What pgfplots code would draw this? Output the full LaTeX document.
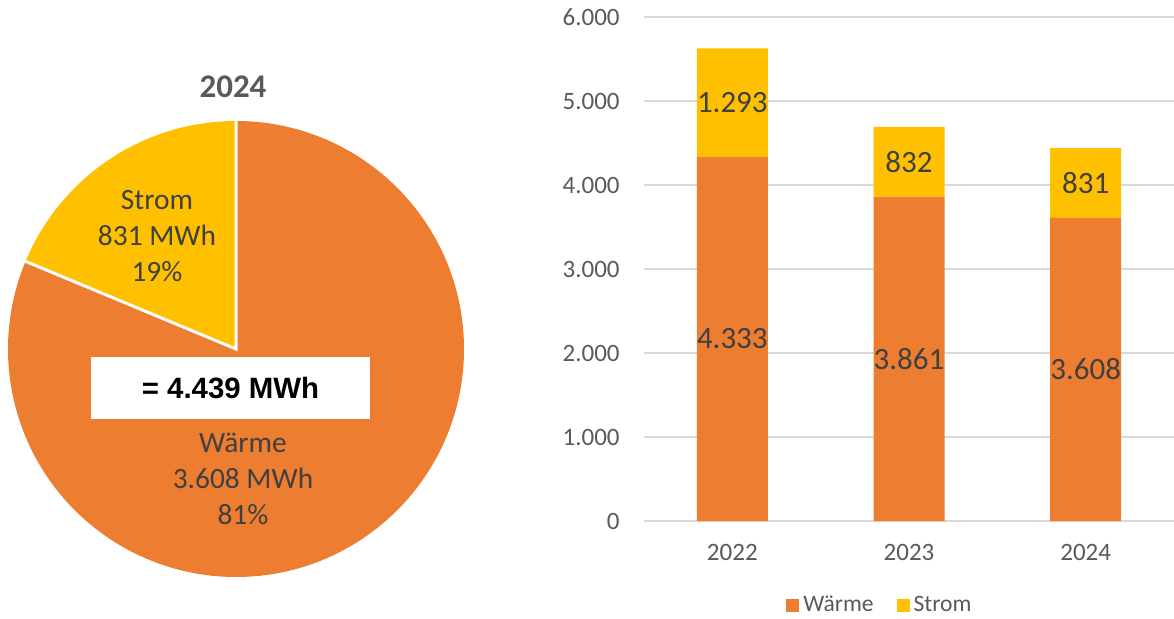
\documentclass[border=0pt]{standalone}
\usepackage{pgfplots}
\pgfplotsset{compat=1.18}
\usepackage{pgfplotstable}
\usepackage{fontspec}
\setmainfont{Carlito}
\newfontfamily\arialfont{Liberation Sans}
\definecolor{waerme}{HTML}{ED7D31}
\definecolor{strom}{HTML}{FFC000}
\definecolor{txtgray}{HTML}{595959}
\definecolor{lblgray}{HTML}{404040}
\definecolor{gridgray}{HTML}{D9D9D9}

% Energieverbrauch in MWh
\pgfplotstableread{
x year warme strom
0 2022 4333 1293
1 2023 3861 832
2 2024 3608 831
}\energy

\begin{document}
\begin{tikzpicture}
\useasboundingbox (0,0) rectangle (587pt,309pt);

% pie angles from the 2024 row
\pgfplotstablegetelem{2}{strom}\of\energy \let\stromval\pgfplotsretval
\pgfplotstablegetelem{2}{warme}\of\energy \let\warmeval\pgfplotsretval
\pgfmathsetmacro\sa{360*(\stromval/(\stromval+\warmeval))}

% ---- pie 2024 ----
\begin{axis}[
    at={(118pt,134.5pt)}, anchor=center,
    hide axis, clip=false,
    x=114pt, y=114pt,
    xmin=-1, xmax=1, ymin=-1, ymax=1,
]
\fill[waerme] (axis cs:0,0) -- (axis cs:0,1) arc[start angle=90, end angle={\sa-270}, radius=114pt] -- cycle;
\fill[strom] (axis cs:0,0) -- (axis cs:0,1) arc[start angle=90, end angle={90+\sa}, radius=114pt] -- cycle;
\draw[white, line width=1.5pt] (axis cs:0,1) -- (axis cs:0,0) -- (axis cs:{cos(90+\sa)},{sin(90+\sa)});
\end{axis}

\node[font=\fontsize{16.5}{19}\selectfont\bfseries, text=txtgray] at (116.5pt,265.5pt) {2024};
\node[font=\fontsize{14.7}{18}\selectfont, text=lblgray, align=center] at (78.5pt,191pt) {Strom\\831 MWh\\19\%};
\node[font=\fontsize{14.7}{18}\selectfont, text=lblgray, align=center] at (121.5pt,69.5pt) {Wärme\\3.608 MWh\\81\%};
\fill[white] (45.5pt,99.5pt) rectangle (185pt,130.5pt);
\node[font=\arialfont\fontsize{14.7}{17}\selectfont\bfseries] at (115.25pt,115pt) {= 4.439 MWh};

% ---- stacked bars ----
\begin{axis}[
    at={(322pt,48.5pt)}, anchor=south west,
    scale only axis, width=265pt, height=252pt,
    ybar stacked, bar width=35.5pt,
    xmin=-0.5, xmax=2.5, ymin=0, ymax=6000,
    xtick=data, xticklabels from table={\energy}{year},
    ytick={0,1000,...,6000},
    axis line style={draw=none}, major tick style={draw=none},
    ymajorgrids, grid style={draw=gridgray, line width=0.75pt},
    /pgf/number format/.cd, 1000 sep={.}, assume math mode=true, /pgfplots/.cd,
    ticklabel style={font=\fontsize{12.5}{15}\selectfont, text=txtgray},
    yticklabel style={anchor=east, inner sep=0pt, xshift=-12pt},
    xticklabel style={anchor=center, inner sep=0pt, yshift=-15.5pt},
    point meta=explicit,
    nodes near coords,
    every node near coord/.append style={font=\fontsize{15.5}{18}\selectfont, text=lblgray, anchor=center},
    legend style={at={(0.447,-0.167)}, anchor=center, draw=none, fill=none,
        legend columns=-1, font=\fontsize{11.8}{14}\selectfont, text=txtgray,
        /tikz/every even column/.append style={column sep=9.5pt}},
]
\addplot[fill=waerme, draw=none,
    legend image code/.code={\fill[waerme] (0pt,-3.25pt) rectangle (6.5pt,3.25pt);}]
    table[x=x, y=warme, meta=warme] {\energy};
\addlegendentry{Wärme}
\addplot[fill=strom, draw=none,
    legend image code/.code={\fill[strom] (0pt,-3.25pt) rectangle (6.5pt,3.25pt);}]
    table[x=x, y=strom, meta=strom] {\energy};
\addlegendentry{Strom}
\end{axis}
\end{tikzpicture}
\end{document}
